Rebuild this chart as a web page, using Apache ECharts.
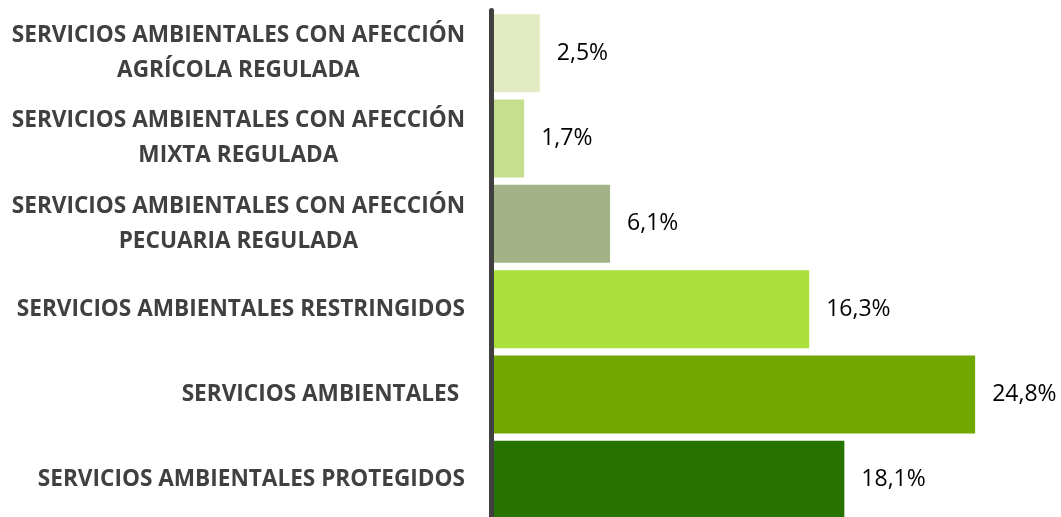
<!DOCTYPE html>
<html>
<head>
<meta charset="utf-8">
<script src="https://cdn.jsdelivr.net/npm/echarts@6/dist/echarts.min.js"></script>
<style>
  html, body { margin: 0; padding: 0; background: #fff; }
  #chart { width: 1061px; height: 517px; }
</style>
</head>
<body>
<div id="chart"></div>
<script>
// Categories listed bottom to top (category axis order)
const categories = [
  'SERVICIOS AMBIENTALES PROTEGIDOS',
  'SERVICIOS AMBIENTALES ',
  'SERVICIOS AMBIENTALES RESTRINGIDOS',
  'SERVICIOS AMBIENTALES CON AFECCIÓN\nPECUARIA REGULADA',
  'SERVICIOS AMBIENTALES CON AFECCIÓN\nMIXTA REGULADA',
  'SERVICIOS AMBIENTALES CON AFECCIÓN\nAGRÍCOLA REGULADA'
];
const values = [18.1, 24.8, 16.3, 6.1, 1.7, 2.5];
const barColors = ['#267300', '#70a800', '#a9e03b', '#a3b287', '#c5df8f', '#e3ebc2'];

const LABEL_FONT = '"Open Sans", sans-serif';

const chart = echarts.init(document.getElementById('chart'), null, { renderer: 'canvas' });

chart.setOption({
  animation: false,
  backgroundColor: '#ffffff',
  grid: {
    left: 491, top: 10.5, width: 546.6, height: 512,
    containLabel: false,
    outerBoundsMode: 'none'
  },
  xAxis: {
    type: 'value',
    min: 0,
    max: 28,
    show: false
  },
  yAxis: {
    type: 'category',
    data: categories,
    axisLine: { show: true, lineStyle: { color: '#404040', width: 5 } },
    axisTick: { show: false },
    splitLine: { show: false },
    z: 5,
    axisLabel: {
      margin: 26,
      align: 'right',
      formatter: function (v) {
        return v.split('\n').map(function (line) { return '{c|' + line + '}'; }).join('\n');
      },
      rich: {
        c: {
          align: 'center',
          fontFamily: LABEL_FONT,
          fontWeight: 'bold',
          fontSize: 22.6,
          lineHeight: 35,
          color: '#404040'
        }
      }
    }
  },
  series: [{
    type: 'bar',
    data: values.map(function (v, i) {
      return { value: v, itemStyle: { color: barColors[i] } };
    }),
    barCategoryGap: '8.5%',
    label: {
      show: true,
      position: 'right',
      distance: 17,
      formatter: function (p) { return p.value.toFixed(1).replace('.', ',') + '%'; },
      fontFamily: LABEL_FONT,
      fontSize: 23,
      color: '#000000'
    }
  }]
});
</script>
</body>
</html>
